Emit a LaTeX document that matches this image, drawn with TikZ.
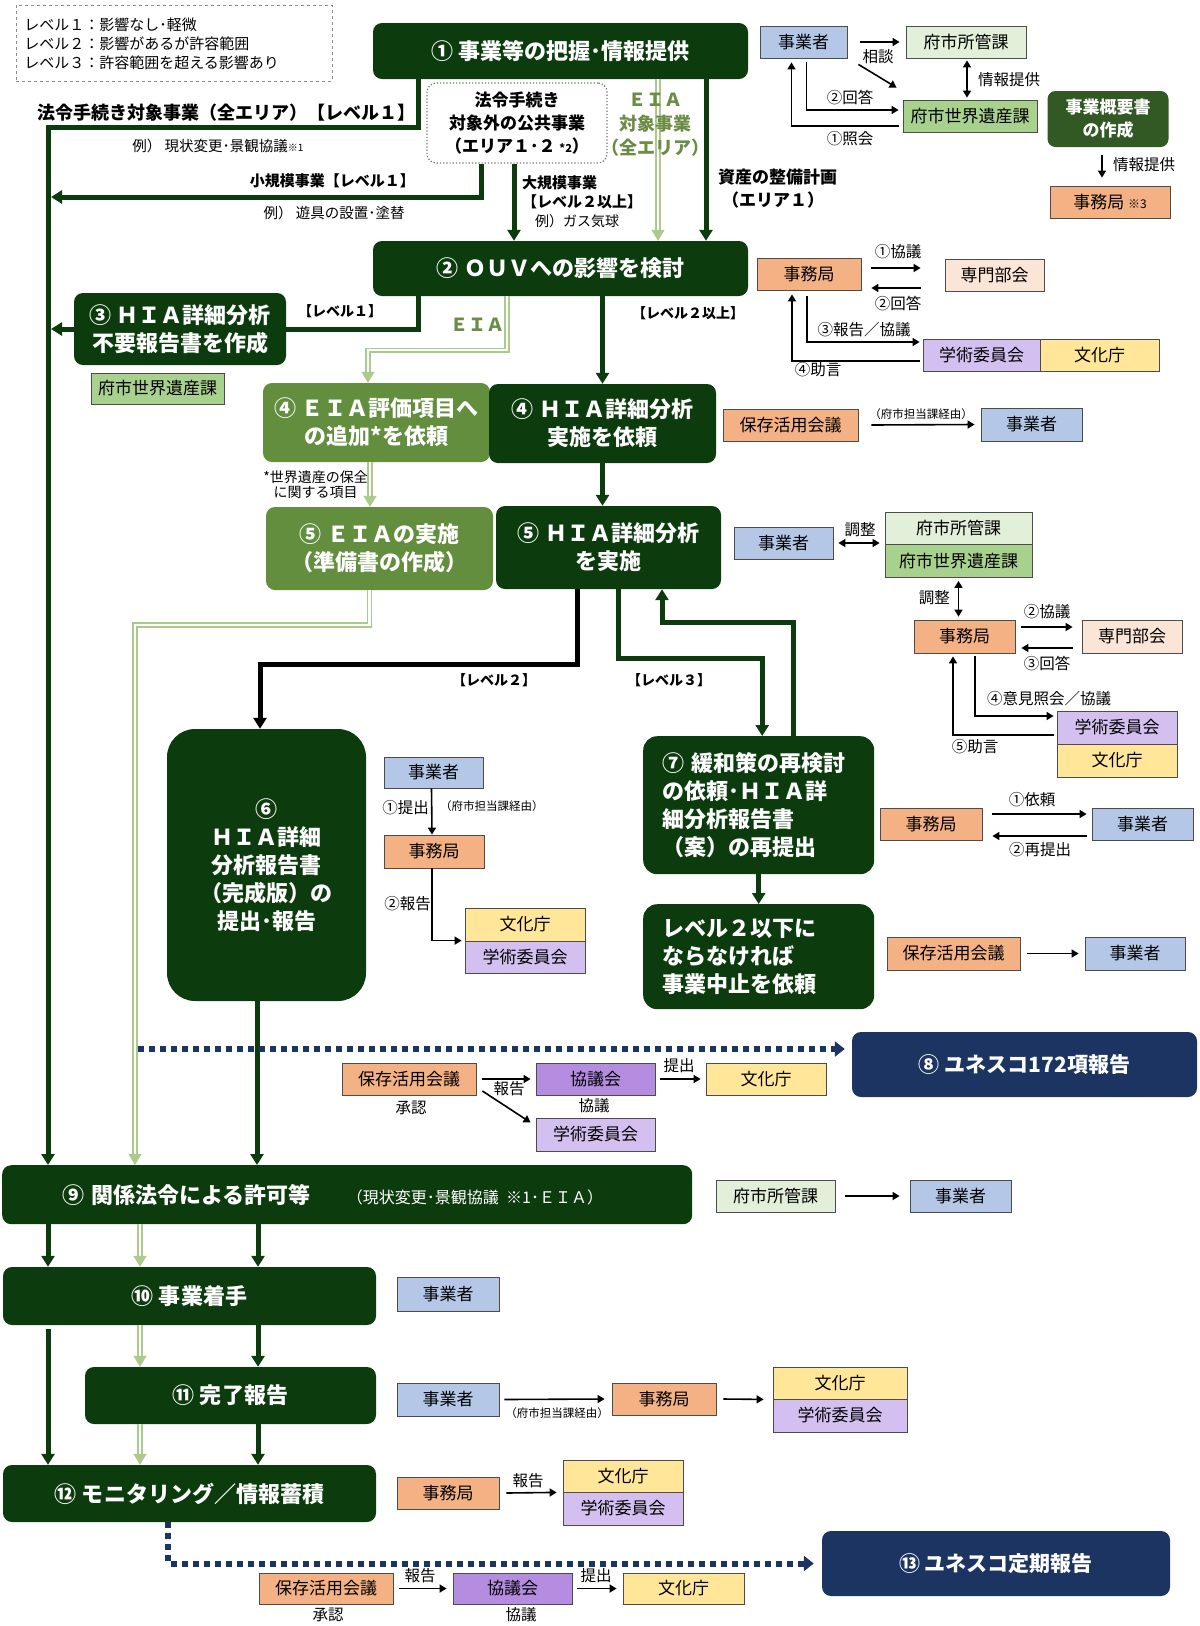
\documentclass[tikz,border=0pt]{standalone}
\usepackage{fontspec}
\setmainfont{Noto Sans CJK JP}
\usepackage{xcolor}
\usepackage{tikz}
\usetikzlibrary{arrows.meta,calc}

\definecolor{dkgreen}{RGB}{12,60,14}
\definecolor{mdgreen}{RGB}{98,142,62}
\definecolor{sumgreen}{RGB}{50,88,36}
\definecolor{eiagreen}{RGB}{172,202,140}
\definecolor{eiatext}{RGB}{108,140,70}
\definecolor{navy}{RGB}{28,52,98}
\definecolor{bizblue}{RGB}{180,199,231}
\definecolor{secorange}{RGB}{244,177,131}
\definecolor{palegreen}{RGB}{226,239,217}
\definecolor{heritgreen}{RGB}{169,209,142}
\definecolor{peach}{RGB}{251,229,214}
\definecolor{lilac}{RGB}{212,192,240}
\definecolor{violet}{RGB}{180,140,224}
\definecolor{bunkay}{RGB}{255,230,153}

\tikzset{
  sz/.style 2 args={minimum width=#1pt, minimum height=#2pt},
  main/.style={rounded corners=9pt, fill=dkgreen, text=white, align=center, inner sep=0pt, font=\bfseries\fontsize{22}{28}\selectfont},
  eiabox/.style={main, fill=mdgreen},
  unesco/.style={main, fill=navy, font=\bfseries\fontsize{21}{25}\selectfont},
  lgbox/.style={draw=black!55, dotted, line width=1.2pt, rounded corners=9pt, fill=white, align=center, inner sep=0pt, font=\bfseries\fontsize{17}{23}\selectfont},
  summary/.style={rounded corners=8pt, fill=sumgreen, text=white, align=center, inner sep=0pt, font=\bfseries\fontsize{17}{23}\selectfont},
  legend/.style={draw=black!45, dashed, line width=0.8pt, align=left, inner xsep=8pt, inner ysep=7pt, text width=300pt, minimum height=76pt, font=\fontsize{15}{19}\selectfont},
  tag/.style={draw=black!70, line width=0.8pt, inner sep=0pt, sz={100}{32}, font=\fontsize{17}{19}\selectfont},
  biz/.style={tag, fill=bizblue},
  sec/.style={tag, fill=secorange},
  shoka/.style={tag, fill=palegreen},
  isan/.style={tag, fill=heritgreen},
  bukai/.style={tag, fill=peach},
  gakuj/.style={tag, fill=lilac},
  kyogi/.style={tag, fill=violet},
  bunka/.style={tag, fill=bunkay},
  lbl/.style={inner sep=0pt, font=\fontsize{15.5}{17}\selectfont},
  note/.style={inner sep=0pt, font=\fontsize{11.5}{13}\selectfont},
  lvl/.style={inner sep=0pt, font=\bfseries\fontsize{15}{19}\selectfont},
  lvs/.style={inner sep=0pt, font=\bfseries\fontsize{14}{16}\selectfont},
  mainln/.style={draw=dkgreen, line width=5pt},
  mainarr/.style={mainln, -{Triangle[width=13pt,length=11pt]}},
  blkarr/.style={draw=black, line width=5pt, -{Triangle[width=13pt,length=11pt]}},
  eialn/.style={draw=eiagreen, line width=1.4pt, double=white, double distance=2.4pt, -{Triangle[width=13pt,length=11pt,fill=eiagreen]}},
  dotln/.style={draw=navy, line width=6pt, dash pattern=on 6pt off 5pt, -{Triangle[width=15pt,length=10pt]}},
  sarr/.style={line width=1.6pt, -{Triangle[width=8pt,length=7pt]}},
  sboth/.style={line width=1.6pt, {Triangle[width=8pt,length=7pt]}-{Triangle[width=8pt,length=7pt]}},
}

\begin{document}
\begin{tikzpicture}[x=1pt,y=-1pt]
\useasboundingbox (0,0) rectangle (1200,1626);

% legend
\node[legend, anchor=north west] (lgd) at (16,5) {レベル１：影響なし･軽微\\レベル２：影響があるが許容範囲\\レベル３：許容範囲を超える影響あり};

% main flow
\node[main, sz={375}{56}] (s1) at (560.5,51) {① 事業等の把握･情報提供};
\node[lgbox, sz={180}{80}] (lg) at (517,123) {法令手続き\\対象外の公共事業\\（エリア１･２ {\fontsize{11}{12}\selectfont *2}）};
\node[main, sz={375}{55}] (s2) at (560.5,268.5) {② ＯＵＶへの影響を検討};
\node[main, sz={212}{72}] (s3) at (180,329) {③ ＨＩＡ詳細分析\\不要報告書を作成};
\node[eiabox, sz={227}{79}] (e4) at (376.5,422.5) {④ ＥＩＡ評価項目へ\\の追加*を依頼};
\node[main, sz={227}{79}] (h4) at (602.5,423.5) {④ ＨＩＡ詳細分析\\実施を依頼};
\node[eiabox, sz={227}{83}] (e5) at (379.5,548.5) {⑤ ＥＩＡの実施\\（準備書の作成）};
\node[main, sz={225}{83}] (h5) at (608.5,547.5) {⑤ ＨＩＡ詳細分析\\を実施};
\node[main, sz={199}{272}, rounded corners=28pt] (s6) at (266.5,865) {⑥\\ＨＩＡ詳細\\分析報告書\\（完成版）の\\提出･報告};
\node[main, anchor=north west, align=left, text width=193pt, inner xsep=19pt, minimum height=138pt, rounded corners=14pt] (s7) at (643,736) {⑦ 緩和策の再検討\\の依頼･ＨＩＡ詳\\細分析報告書\\（案）の再提出};
\node[main, anchor=north west, align=left, text width=193pt, inner xsep=19pt, minimum height=105pt, rounded corners=14pt] (stop) at (643,904) {レベル２以下に\\ならなければ\\事業中止を依頼};
\node[unesco, sz={345}{65}] (s8) at (1024.5,1064.5) {⑧ ユネスコ172項報告};
\node[main, anchor=north west, align=left, text width=570pt, inner xsep=60pt, minimum height=59pt] (s9) at (2,1165) {⑨ 関係法令による許可等\hspace{36pt}{\mdseries\fontsize{16}{18}\selectfont（現状変更･景観協議 ※1･ＥＩＡ）}};
\node[main, sz={373}{58}] (s10) at (189.5,1296) {⑩ 事業着手};
\node[main, sz={291}{57}] (s11) at (230.5,1395.5) {⑪ 完了報告};
\node[main, sz={373}{57}] (s12) at (189.5,1493.5) {⑫ モニタリング／情報蓄積};
\node[unesco, sz={348}{65}] (s13) at (996,1563.5) {⑬ ユネスコ定期報告};

\coordinate (trunk) at (48,127);
\coordinate (small) at (51,197);
\coordinate (eiax) at (135,625);
\coordinate (colB) at (140,1244);
\coordinate (colC) at (258,1244);
\coordinate (dotA) at (138,1049);

%Straight Lines
\draw[mainarr] ([xshift=46pt]s1.south west) |- (trunk) -- (trunk |- s9.north);
\draw[mainarr] ([xshift=55pt]lg.south west) |- (small);
\draw[mainarr] ([xshift=-3pt]lg.south) -- ([xshift=-3pt]lg.south |- s2.north);
\draw[eialn] ([xshift=97.5pt]s1.south) -- ([xshift=97.5pt]s2.north);
\draw[mainarr] ([xshift=145.5pt]s1.south) -- ([xshift=145.5pt]s2.north);
\draw[mainln] ([xshift=46pt]s2.south west) |- (s3.east);
\draw[mainarr] (s3.west) -- (s3.west -| small);
\draw[eialn] ([xshift=-53.5pt]s2.south) -- ++(0,54) -| ([xshift=-8.5pt]e4.north);
\draw[mainarr] (s2.south -| h4.north) -- (h4.north);
\draw[mainarr] (h4.south) -- (h4.south |- h5.north);
\draw[eialn] ([xshift=-6.5pt]e4.south) -- ([xshift=-6.5pt]e4.south |- e5.north);
\draw[eialn] ([xshift=-10pt]e5.south) |- (eiax) -- (eiax |- s9.north);
\draw[blkarr] ([xshift=-31.5pt]h5.south) -- ++(0,75) -| ([xshift=-6.5pt]s6.north);
\draw[mainarr] ([xshift=9.5pt]h5.south) -- ++(0,69) -| ([xshift=3.5pt]s7.north);
\draw[mainarr] ([xshift=34.5pt]s7.north) -- ++(0,-114) -| ([xshift=53.5pt]h5.south);
\draw[mainarr] (s7.south) -- (s7.south |- stop.north);
\draw[mainarr] ([xshift=-9.5pt]s6.south) -- ([xshift=-9.5pt]s6.south |- s9.north);
\draw[dotln] (dotA) -- ([xshift=-7pt]dotA -| s8.west);
\draw[mainarr] (trunk |- s9.south) -- (trunk |- s10.north);
\draw[eialn] (colB |- s9.south) -- (colB |- s10.north);
\draw[mainarr] (colC |- s9.south) -- (colC |- s10.north);
\draw[mainarr] ([shift={(0,4)}]trunk |- s10.south) -- (trunk |- s12.north);
\draw[eialn] (colB |- s10.south) -- (colB |- s11.north);
\draw[mainarr] (colC |- s10.south) -- (colC |- s11.north);
\draw[eialn] (colB |- s11.south) -- (colB |- s12.north);
\draw[mainarr] (colC |- s11.south) -- (colC |- s12.north);
\draw[dotln] ([xshift=165pt]s12.south west) |- ([xshift=-8pt]s13.west);

% Text Node
\node[lvl, anchor=west, font=\bfseries\fontsize{18}{20}\selectfont] (hourei) at (37,113) {法令手続き対象事業（全エリア）【レベル１】};
\node[lbl, font=\fontsize{14.5}{16}\selectfont] (rei1) at (218,146) {例）\ 現状変更･景観協議{\fontsize{10}{10}\selectfont ※1}};
\node[lvl, anchor=east] (shokibo) at (415,181) {小規模事業【レベル１】};
\node[lbl, font=\fontsize{14.5}{16}\selectfont] (rei2) at (334,213) {例）\ 遊具の設置･塗替};
\node[lvl, anchor=west] (daikibo) at (522,183) {大規模事業};
\node[lvl, anchor=west] (daikiboL) at (522,202) {【レベル２以上】};
\node[lbl, anchor=west, font=\fontsize{14}{15}\selectfont] (rei3) at (535,221) {例）ガス気球};
\node[inner sep=0pt, text=eiatext, align=center, font=\bfseries\fontsize{18}{24}\selectfont] (eiaA) at (655,125) {ＥＩＡ\\対象事業\\（全エリア）};
\node[lvl, anchor=west, font=\bfseries\fontsize{17}{19}\selectfont] (seibi) at (718,177) {資産の整備計画};
\node[lvl, anchor=west, font=\bfseries\fontsize{17}{19}\selectfont] (seibiB) at (722,200) {（エリア１）};
\node[lvs] (lv1) at (340,311) {【レベル１】};
\node[inner sep=0pt, text=eiatext, font=\bfseries\fontsize{18}{20}\selectfont] (eiaB) at (477,325) {ＥＩＡ};
\node[lvs] (lv2up) at (688,313) {【レベル２以上】};
\node[lbl, anchor=east, align=center, font=\fontsize{14}{15}\selectfont] (hozen) at (368,485) {*世界遺産の保全\\に関する項目};
\node[lvs] (lv2) at (494,680) {【レベル２】};
\node[lvs] (lv3) at (669,680) {【レベル３】};
\node[isan, sz={133}{31}] (isB) at (157.5,388.5) {府市世界遺産課};

% step 1 partners
\node[biz, minimum width=87pt] (jgA) at (803.5,42) {事業者};
\node[shoka, minimum width=120pt] (shoA) at (966,42) {府市所管課};
\node[isan, minimum width=134pt] (isA) at (970,116) {府市世界遺産課};
\node[summary, sz={121}{56}] (gaiyo) at (1108,119) {事業概要書\\の作成};
\node[sec, minimum width=120pt] (jmA) at (1110,202) {事務局 {\fontsize{12}{12}\selectfont ※3}};
\draw[sarr] ([xshift=13pt]jgA.east) -- ([xshift=-6pt]jgA.east -| shoA.west);
\draw[sarr] ([shift={(11,6)}]jgA.south east) -- ([shift={(-6,-12)}]isA.north west);
\node[lbl] (sodan) at (878,57) {相談};
\draw[sboth] ([shift={(1,2)}]shoA.south) -- ([shift={(1,-2)}]shoA.south |- isA.north);
\node[lbl, anchor=west] (teikyoA) at (978,80) {情報提供};
\draw[sarr] ([shift={(3,4)}]jgA.south) |- ([shift={(-4,-6)}]isA.west);
\node[lbl] (kaitoA) at (850,98) {②回答};
\draw[sarr] ([shift={(-4,10)}]isA.west) -| ([shift={(-12,4)}]jgA.south);
\node[lbl] (shokaiA) at (850,139) {①照会};
\draw[sarr] ([shift={(-6,8)}]gaiyo.south) -- ([shift={(-6,-8)}]gaiyo.south |- jmA.north);
\node[lbl, anchor=west] (teikyoB) at (1113,165) {情報提供};

% step 2 partners
\node[sec, minimum width=104pt] (jmB) at (809,274) {事務局};
\node[bukai, minimum width=99pt] (bkB) at (994.5,275) {専門部会};
\node[gakuj, minimum width=117pt] (gkB) at (981.5,355) {学術委員会};
\node[bunka, minimum width=119pt] (bcB) at (1099.5,355) {文化庁};
\draw[sarr] ([shift={(10,-6)}]jmB.east) -- ([shift={(-24,-7)}]bkB.west);
\draw[sarr] ([shift={(-24,13)}]bkB.west) -- ([shift={(10,14)}]jmB.east);
\node[lbl] (kyogiB) at (898,252) {①協議};
\node[lbl] (kaitoB) at (898,304) {②回答};
\draw[sarr] ([shift={(-2,6)}]jmB.south) |- ([shift={(-3,-13)}]gkB.west);
\draw[sarr] ([shift={(-3,6)}]gkB.west) -| ([shift={(-17,4)}]jmB.south);
\node[lbl] (hokokuB) at (864,330) {③報告／協議};
\node[lbl] (jogenB) at (818,370) {④助言};

% step 4 partners
\node[sec, minimum width=135pt] (hkC) at (790.5,425) {保存活用会議};
\node[biz, sz={101}{33}] (jgC) at (1031.5,424.5) {事業者};
\draw[sarr] ([xshift=13pt]hkC.east) -- ([xshift=-6pt]jgC.west);
\node[note] (keiyuC) at (921,414) {（府市担当課経由）};

% step 5 partners
\node[biz, minimum width=99pt] (jgD) at (783.5,543) {事業者};
\node[shoka, minimum width=147pt] (shoD) at (958.5,528) {府市所管課};
\node[isan, sz={147}{33}] (isD) at (958.5,561) {府市世界遺産課};
\draw[sboth] ([xshift=5pt]jgD.east) -- ([xshift=-5pt]jgD.east -| shoD.west);
\node[lbl] (choseiD) at (860,530) {調整};
\node[sec, sz={101}{33}] (jmD) at (964.5,636.5) {事務局};
\node[bukai, sz={100}{33}] (bkD) at (1132,636.5) {専門部会};
\node[gakuj, sz={120}{33}] (gkD) at (1117,727.5) {学術委員会};
\node[bunka, sz={120}{33}] (bcD) at (1117,760.5) {文化庁};
\draw[sboth] ([shift={(0,3)}]isD.south) -- ([shift={(0,-3)}]isD.south |- jmD.north);
\node[lbl, anchor=east] (choseiE) at (950,598) {調整};
\draw[sarr] ([shift={(6,-9.5)}]jmD.east) -- ([shift={(-9,-9.5)}]bkD.west);
\draw[sarr] ([shift={(-9,11.5)}]bkD.west) -- ([shift={(6,11.5)}]jmD.east);
\node[lbl] (kyogiD) at (1047,612) {②協議};
\node[lbl] (kaitoD) at (1047,664) {③回答};
\draw[sarr] ([shift={(10.5,3)}]jmD.south) |- ([shift={(-3,-11.5)}]gkD.west);
\draw[sarr] ([shift={(-3,7.5)}]gkD.west) -| ([shift={(-11.5,3)}]jmD.south);
\node[lbl] (ikenD) at (1049,699) {④意見照会／協議};
\node[lbl] (jogenD) at (975,747) {⑤助言};

% step 6 partners
\node[biz, sz={99}{31}] (jgE) at (433.5,772.5) {事業者};
\node[sec, sz={100}{33}] (jmE) at (434,851.5) {事務局};
\node[bunka, sz={120}{33}] (bcE) at (525,924.5) {文化庁};
\node[gakuj, sz={120}{32}] (gkE) at (525,957) {学術委員会};
\draw[sarr] ([xshift=-2pt]jgE.south) -- ([xshift=-2pt]jmE.north);
\node[lbl, anchor=east] (teishutsuE) at (429,808) {①提出};
\node[note, anchor=west] (keiyuE) at (440,806) {（府市担当課経由）};
\draw[sarr] ([xshift=-2pt]jmE.south) |- ([xshift=-3pt]gkE.north west);
\node[lbl, anchor=east] (hokokuE) at (431,904) {②報告};

% step 7 partners
\node[sec, minimum width=102pt] (jmF) at (931,824) {事務局};
\node[biz, minimum width=101pt] (jgF) at (1142.5,824) {事業者};
\draw[sarr] ([shift={(10,-10)}]jmF.east) -- ([shift={(-5,-10)}]jgF.west);
\draw[sarr] ([shift={(-5,12)}]jgF.west) -- ([shift={(10,12)}]jmF.east);
\node[lbl] (iraiF) at (1032,800) {①依頼};
\node[lbl] (saiF) at (1040,850) {②再提出};
\node[sec, sz={133}{33}] (hkG) at (953.5,953.5) {保存活用会議};
\node[biz, sz={100}{33}] (jgG) at (1135,953.5) {事業者};
\draw[sarr] ([xshift=7pt]hkG.east) -- ([xshift=-6pt]jgG.west);

% step 8 partners
\node[sec, minimum width=134pt] (hkH) at (409,1079) {保存活用会議};
\node[lbl] (shoninH) at (411,1108) {承認};
\node[kyogi, minimum width=119pt] (kyH) at (595.5,1079) {協議会};
\node[lbl] (kyogiH) at (594,1106) {協議};
\node[gakuj, sz={119}{33}] (gkH) at (595.5,1134.5) {学術委員会};
\node[bunka, minimum width=120pt] (bcH) at (766,1079) {文化庁};
\draw[sarr] ([xshift=6pt]hkH.east) -- ([xshift=-5pt]kyH.west);
\draw[sarr] ([shift={(6,12)}]hkH.east) -- ([shift={(-5,-12)}]gkH.west);
\node[lbl] (hokokuH) at (509,1089) {報告};
\draw[sarr] ([xshift=5pt]kyH.east) -- ([xshift=-5pt]bcH.west);
\node[lbl] (teishutsuH) at (679,1066) {提出};

% step 9 to 12 partners
\node[shoka, minimum width=119pt] (shoI) at (775.5,1196) {府市所管課};
\node[biz, minimum width=101pt] (jgI) at (960.5,1196) {事業者};
\draw[sarr] ([xshift=10pt]shoI.east) -- ([xshift=-10pt]jgI.west);
\node[biz, sz={102}{34}] (jgJ) at (448,1294) {事業者};
\node[biz, sz={102}{33}] (jgK) at (448,1399.5) {事業者};
\node[sec, sz={104}{32}] (jmK) at (664,1399) {事務局};
\node[bunka, sz={134}{32}] (bcK) at (840,1383) {文化庁};
\node[gakuj, sz={134}{33}] (gkK) at (840,1415.5) {学術委員会};
\draw[sarr] ([xshift=5pt]jgK.east) -- ([xshift=-7pt]jmK.west);
\node[note] (keiyuK) at (557,1413) {（府市担当課経由）};
\draw[sarr] ([xshift=7pt]jmK.east) -- ([xshift=-9pt]bcK.south west);
\node[sec, sz={102}{32}] (jmL) at (448,1493) {事務局};
\node[bunka, sz={120}{32}] (bcL) at (623,1476) {文化庁};
\node[gakuj, sz={120}{33}] (gkL) at (623,1508.5) {学術委員会};
\draw[sarr] ([xshift=7pt]jmL.east) -- ([xshift=-6pt]bcL.south west);
\node[lbl] (hokokuL) at (528,1481) {報告};

% step 13 partners
\node[sec, sz={134}{31}] (hkM) at (326,1588.5) {保存活用会議};
\node[lbl] (shoninM) at (328,1615) {承認};
\node[kyogi, sz={119}{31}] (kyM) at (512.5,1588.5) {協議会};
\node[lbl] (kyogiM) at (521,1615) {協議};
\node[bunka, sz={121}{31}] (bcM) at (683.5,1588.5) {文化庁};
\draw[sarr] ([xshift=6pt]hkM.east) -- ([xshift=-6pt]kyM.west);
\node[lbl] (hokokuM) at (420,1576) {報告};
\draw[sarr] ([xshift=5pt]kyM.east) -- ([xshift=-6pt]bcM.west);
\node[lbl] (teishutsuM) at (596,1576) {提出};

\end{tikzpicture}
\end{document}
